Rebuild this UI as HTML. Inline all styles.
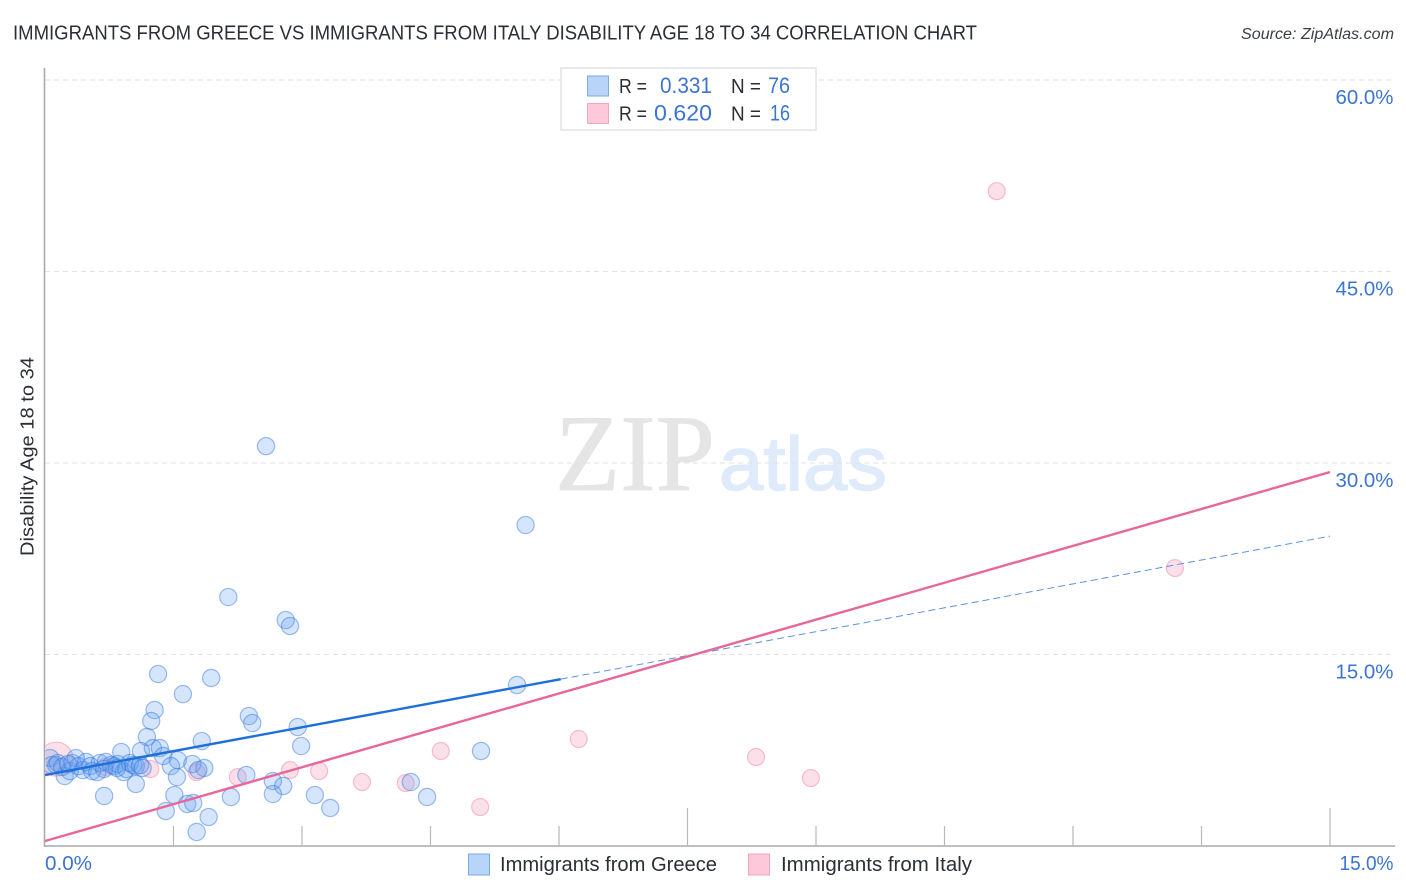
<!DOCTYPE html>
<html lang="en">
<head>
<meta charset="utf-8">
<title>Immigrants from Greece vs Immigrants from Italy Disability Age 18 to 34 Correlation Chart</title>
<style>
html,body{margin:0;padding:0;background:#fff;width:1406px;height:892px;overflow:hidden}
svg{display:block}
text{font-family:"Liberation Sans",sans-serif}
</style>
</head>
<body>
<svg id="chart" width="1406" height="892" viewBox="0 0 1406 892" xmlns="http://www.w3.org/2000/svg">
  <defs>
    <clipPath id="plot-clip"><rect x="45.5" y="60" width="1360" height="786"/></clipPath>
  </defs>
  <text x="13" y="39.5" font-size="20" fill="#2a2e35" textLength="964" lengthAdjust="spacingAndGlyphs">IMMIGRANTS FROM GREECE VS IMMIGRANTS FROM ITALY DISABILITY AGE 18 TO 34 CORRELATION CHART</text>
  <text x="1241" y="39" font-size="15.5" font-style="italic" fill="#3a3e45" textLength="153" lengthAdjust="spacingAndGlyphs">Source: ZipAtlas.com</text>
  <text x="555" y="490" font-size="109" fill="#e5e5e5" stroke="#e5e5e5" stroke-width="0.8" style="font-family:'Liberation Serif',serif" textLength="160" lengthAdjust="spacingAndGlyphs">ZIP</text>
  <text x="719" y="490" font-size="76" fill="#dfeafa" stroke="#dfeafa" stroke-width="1.5" textLength="168" lengthAdjust="spacingAndGlyphs">atlas</text>
  <g id="grid"></g>
  <g id="axes"></g>
  <g clip-path="url(#plot-clip)">
    <g id="pink-points"></g>
    <g id="blue-points"></g>
  </g>
  <g id="trends"></g>
  <g id="labels"></g>
  <text transform="translate(33.5,456.5) rotate(-90)" text-anchor="middle" font-size="18.5" fill="#2a2e35" textLength="199" lengthAdjust="spacingAndGlyphs">Disability Age 18 to 34</text>

  <g>
    <rect x="561" y="68" width="255" height="62" fill="#fff" stroke="#e2e2e2" stroke-width="1.5"/>
    <rect x="587.5" y="76" width="21" height="20" fill="#b8d4f8" stroke="#7eaae0" stroke-width="1"/>
    <rect x="587.5" y="103.5" width="21" height="20" fill="#fcc8da" stroke="#f2a5c0" stroke-width="1"/>
    <text x="619" y="93" font-size="20" fill="#2a2e35" textLength="28" lengthAdjust="spacingAndGlyphs">R =</text>
    <text x="660" y="93" font-size="22" fill="#3b74d1" textLength="52" lengthAdjust="spacingAndGlyphs">0.331</text>
    <text x="731" y="93" font-size="20" fill="#2a2e35" textLength="30" lengthAdjust="spacingAndGlyphs">N =</text>
    <text x="768" y="93" font-size="22" fill="#3b74d1" textLength="22" lengthAdjust="spacingAndGlyphs">76</text>
    <text x="619" y="120.5" font-size="20" fill="#2a2e35" textLength="28" lengthAdjust="spacingAndGlyphs">R =</text>
    <text x="654" y="120.5" font-size="22" fill="#3b74d1" textLength="58" lengthAdjust="spacingAndGlyphs">0.620</text>
    <text x="731" y="120.5" font-size="20" fill="#2a2e35" textLength="30" lengthAdjust="spacingAndGlyphs">N =</text>
    <text x="770" y="120.5" font-size="22" fill="#3b74d1" textLength="20" lengthAdjust="spacingAndGlyphs">16</text>
  </g>

  <g>
    <rect x="468.5" y="854" width="21" height="21" fill="#b8d4f8" stroke="#7eaae0" stroke-width="1"/>
    <text x="500" y="871" font-size="20" fill="#2a2e35" textLength="217" lengthAdjust="spacingAndGlyphs">Immigrants from Greece</text>
    <rect x="748.5" y="854" width="21" height="21" fill="#fcc8da" stroke="#f2a5c0" stroke-width="1"/>
    <text x="781" y="871" font-size="20" fill="#2a2e35" textLength="191" lengthAdjust="spacingAndGlyphs">Immigrants from Italy</text>
  </g>
</svg>
<script>
const greeceX = [2.58,5.61,2.14,2.81,2.86,1.32,1.94,1.61,5.51,1.28,1.24,2.38,2.42,2.95,1.19,1.83,2.99,5.09,0.89,1.12,1.26,1.34,1.38,1.55,1.47,1.72,1.86,1.79,1.54,2.35,2.66,2.78,4.27,2.66,3.15,2.17,4.46,1.51,1.66,1.73,1.41,1.91,3.33,1.77,0.69,1.06,0.23,0.06,0.08,0.13,0.15,0.20,0.29,0.32,0.36,0.39,0.44,0.48,0.53,0.55,0.61,0.64,0.71,0.77,0.81,0.85,0.92,0.95,0.99,1.03,1.06,1.11,1.14,0.69,0.84,0.27];
const greeceY = [31.32,25.14,19.50,17.70,17.23,13.47,13.16,11.90,12.61,10.65,9.79,10.18,9.63,9.32,8.54,8.22,7.83,7.44,7.36,7.44,7.67,7.67,7.05,6.73,6.26,6.42,6.11,5.95,5.40,5.56,5.09,4.70,5.01,4.07,3.99,3.84,3.84,3.99,3.29,3.37,2.74,2.27,2.98,1.10,3.92,4.86,5.48,6.89,6.34,6.34,6.50,6.19,5.87,6.50,6.89,6.26,5.95,6.58,6.26,5.87,5.79,6.50,6.58,6.34,6.26,6.42,5.79,6.03,6.50,6.34,6.26,6.34,6.11,6.03,6.11,6.42];
const italyX = [11.11,13.19,6.23,4.62,8.30,8.94,2.86,3.20,2.25,1.77,1.23,3.70,4.21,5.08,0.13,0.70];
const italyY = [51.29,21.77,8.38,7.44,6.97,5.32,5.95,5.87,5.40,5.79,6.03,5.01,4.93,3.05,6.81,6.19];
const italyWeight = [1,1,1,1,1,1,1,1,1,1,1,1,1,1,4,1];
const greeceTrendX = [0,6.02,15];
const greeceTrendY = [5.56,13.07,24.27];
const italyTrendX = [0,15];
const italyTrendY = [0.39,29.29];
const yTickValues = [15,30,45,60];
const yTickLabels = ['15.0%','30.0%','45.0%','60.0%'];
const xTickValues = [0,1.5,3,4.5,6,7.5,9,10.5,12,13.5,15];
const xEndValues = [0,15];
const xEndLabels = ['0.0%','15.0%'];

const NS = 'http://www.w3.org/2000/svg';
const xScale = v => 45 + v * (1285 / 15);
const yScale = v => 846 - v * (766 / 60);
function make(tag, parentId, attrs) {
  const el = document.createElementNS(NS, tag);
  for (const k in attrs) el.setAttribute(k, attrs[k]);
  document.getElementById(parentId).appendChild(el);
  return el;
}

yTickValues.forEach(v => {
  const el = make('line', 'grid', {x1: 45, x2: 1393, y1: yScale(v), y2: yScale(v), stroke: '#e2e2e2', 'stroke-width': 1, 'stroke-dasharray': '5 4'});
  
  
});

const yAxis = make('line', 'axes', {x1: 44.5, x2: 44.5, y1: 68, y2: 847, stroke: '#aaaaaa', 'stroke-width': 1.6});


const xAxis = make('line', 'axes', {x1: 44, x2: 1395, y1: 846, y2: 846, stroke: '#aaaaaa', 'stroke-width': 1.6});


xTickValues.forEach((v, i) => {
  if (i === 0) return;
  const top = i % 5 === 0 ? 808 : 826;
  const el = make('line', 'axes', {x1: xScale(v), x2: xScale(v), y1: top, y2: 846, stroke: '#b8b8b8', 'stroke-width': 1.2});
  
  
});

italyX.forEach((v, i) => {
  const el = make('circle', 'pink-points', {cx: xScale(v), cy: yScale(italyY[i]), r: 8.5 * Math.sqrt(italyWeight[i]), fill: 'rgba(244,143,177,0.28)', stroke: 'rgba(236,120,160,0.45)', 'stroke-width': 1.2});
  
  
});
greeceX.forEach((v, i) => {
  const el = make('circle', 'blue-points', {cx: xScale(v), cy: yScale(greeceY[i]), r: 8.6, fill: 'rgba(100,160,240,0.27)', stroke: 'rgba(50,120,220,0.48)', 'stroke-width': 1.2});
  
  
});

const greeceSolid = make('line', 'trends', {x1: xScale(greeceTrendX[0]), y1: yScale(greeceTrendY[0]), x2: xScale(greeceTrendX[1]), y2: yScale(greeceTrendY[1]), stroke: '#1f6fdb', 'stroke-width': 2.4});


const greeceDash = make('line', 'trends', {x1: xScale(greeceTrendX[1]), y1: yScale(greeceTrendY[1]), x2: xScale(greeceTrendX[2]), y2: yScale(greeceTrendY[2]), stroke: '#5b93de', 'stroke-width': 1, 'stroke-dasharray': '7 4'});


const italyLine = make('line', 'trends', {x1: xScale(italyTrendX[0]), y1: yScale(italyTrendY[0]), x2: xScale(italyTrendX[1]), y2: yScale(italyTrendY[1]), stroke: '#e8679a', 'stroke-width': 2.4});



yTickValues.forEach((v, i) => {
  const el = make('text', 'labels', {x: 1393.5, y: yScale(v) + 24, 'text-anchor': 'end', 'font-size': 20, fill: '#3b74d1', textLength: 58, lengthAdjust: 'spacingAndGlyphs'});
  
  
  el.textContent = yTickLabels[i];
});
xEndValues.forEach((v, i) => {
  const first = i === 0;
  const el = make('text', 'labels', {x: first ? xScale(v) : xScale(v) + 63.5, y: 870, 'text-anchor': first ? 'start' : 'end', 'font-size': 20, fill: '#3b74d1', textLength: first ? 47 : 54, lengthAdjust: 'spacingAndGlyphs'});
  
  
  el.textContent = xEndLabels[i];
});
</script>
</body>
</html>
